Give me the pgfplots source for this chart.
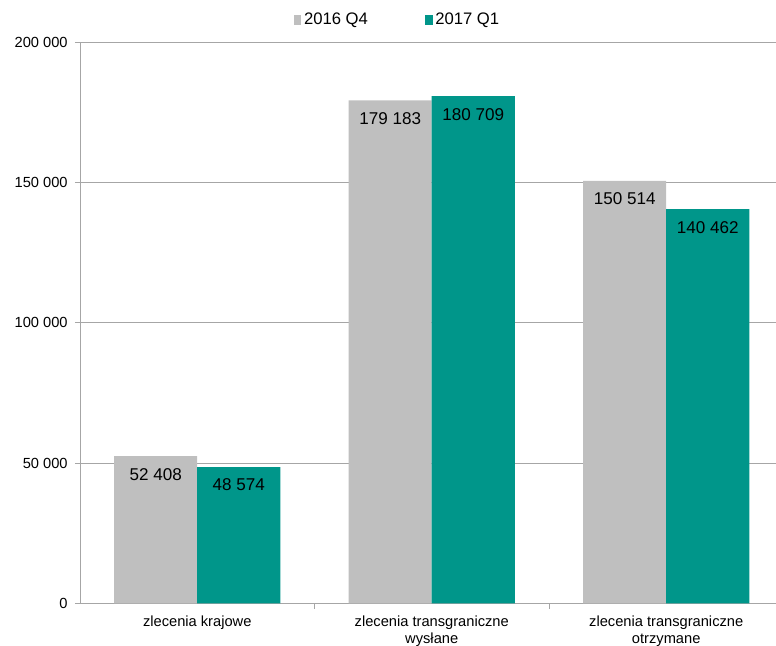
\documentclass[border=0pt]{standalone}
\usepackage{fontspec}
\setmainfont{Liberation Sans}
\usepackage{pgfplots}
\pgfplotsset{compat=1.18}
\definecolor{cgray}{HTML}{BFBFBF}
\definecolor{cteal}{HTML}{00968A}
\definecolor{cgrid}{HTML}{A6A6A6}
\begin{document}
\begin{tikzpicture}
\begin{axis}[name=ax, scale only axis, width=527.6pt, height=421pt,
  ybar=0pt, bar width=62.3pt,
  xmin=-0.5, xmax=2.5, ymin=0, ymax=200000,
  scaled y ticks=false,
  ytick={0,50000,100000,150000,200000},
  yticklabels={0,50 000,100 000,150 000,200 000},
  ymajorgrids, grid style={cgrid, line width=0.6pt},
  axis x line*=bottom, axis y line*=left,
  axis line style={cgrid, line width=0.6pt},
  tick style={cgrid, line width=0.6pt},
  tick align=outside,
  major tick length=3.75pt,
  y tick label style={font=\fontsize{11}{13}\selectfont, xshift=-2pt},
  xtick={0,1,2},
  xticklabels={zlecenia krajowe,{zlecenia transgraniczne\\wysłane},{zlecenia transgraniczne\\otrzymane}},
  x tick label style={align=center, font=\fontsize{11}{13}\selectfont, yshift=-2pt},
  x tick style={draw=none},
  extra x ticks={0.5,1.5}, extra x tick labels={},
  extra x tick style={x tick style={draw=cgrid}, major tick length=4pt},
  legend style={at={(0.452,1)}, anchor=center, yshift=16.5pt, draw=none, fill=none,
    legend columns=2, font=\fontsize{12.5}{14}\selectfont,
    /tikz/every even column/.append style={column sep=41pt}},
  legend image code/.code={\fill[#1] (0pt,-3.5pt) rectangle (5.5pt,4pt);},
  nodes near coords, point meta=explicit symbolic,
  every node near coord/.append style={anchor=north, yshift=-5.5pt, font=\fontsize{12.8}{14}\selectfont, text=black},
]
\addplot[fill=cgray, draw=none] coordinates {(0,52408) [52 408] (1,179183) [179 183] (2,150514) [150 514]};
\addplot[fill=cteal, draw=none] coordinates {(0,48574) [48 574] (1,180709) [180 709] (2,140462) [140 462]};
\legend{2016 Q4, 2017 Q1}
\end{axis}
\pgfresetboundingbox
\path ([xshift=-60pt,yshift=-31.5pt]ax.south west) rectangle ([xshift=-5.6pt,yshift=31.5pt]ax.north east);
\end{tikzpicture}
\end{document}
